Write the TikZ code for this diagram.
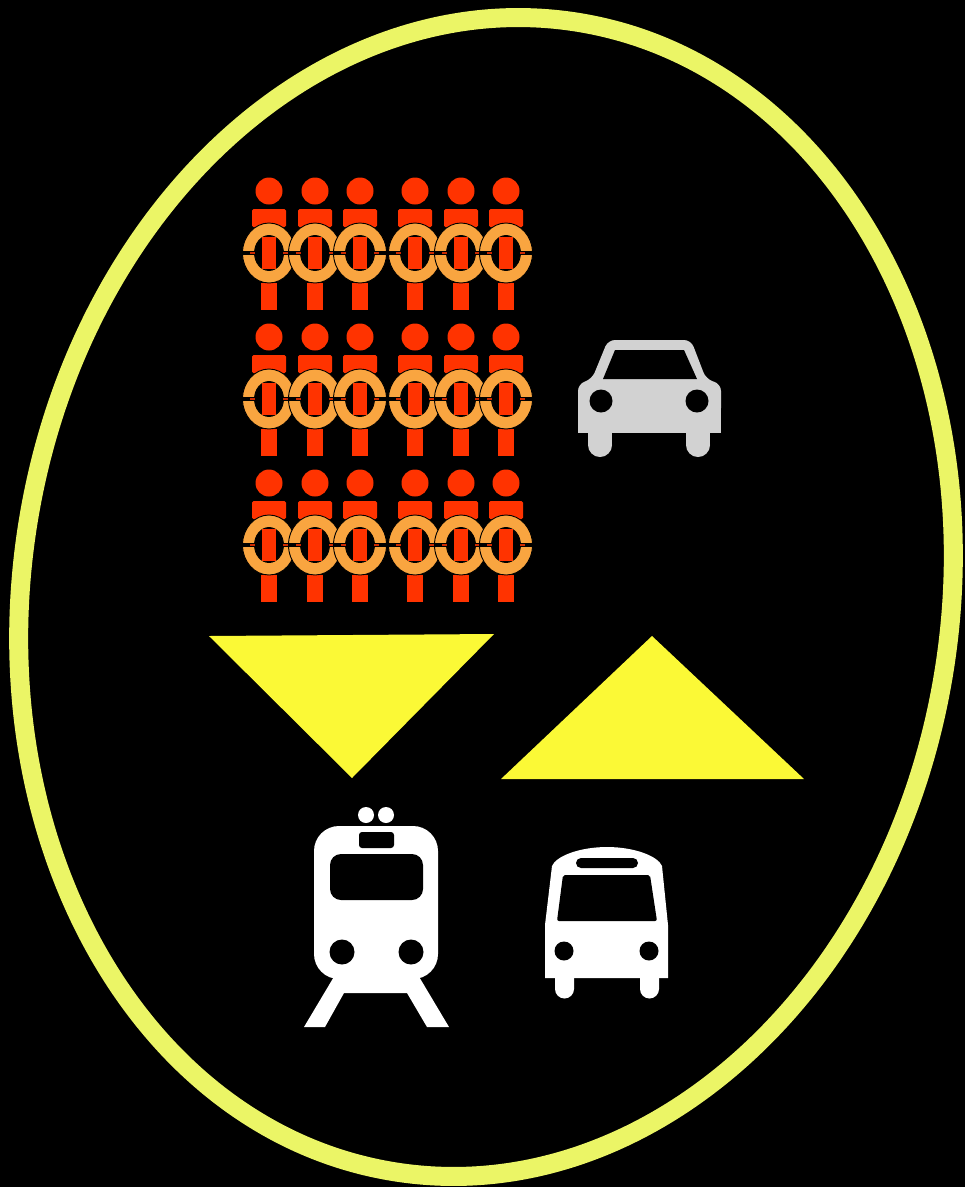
\documentclass[tikz,border=0pt]{standalone}
\definecolor{ringY}{HTML}{EBF566}
\definecolor{triY}{HTML}{FBF936}
\definecolor{redP}{HTML}{FF3300}
\definecolor{orP}{HTML}{F9A540}
\definecolor{carG}{HTML}{D2D2D2}
\newcommand{\oneperson}[2]{%
 \begin{scope}[shift={(#1,#2)}]
  \fill[redP] (0,0) circle[radius=13.5];
  \fill[redP,rounded corners=1.5] (-17,18) rectangle (17,36);
  \fill[redP] (-8,92) rectangle (8,119);
  \fill[orP,even odd rule,draw=black,line width=.9] (0,62) ellipse[x radius=26.5,y radius=30] (0,62) ellipse[x radius=14.5,y radius=17.5];
  \fill[redP] (-7,46) rectangle (7,78);
  \fill[black] (-27.5,60.3) rectangle (27.5,63.7);
  \fill[redP] (-7,60.3) rectangle (7,63.7);
  \fill[redP!80!black] (-19,60.8) rectangle (-14,63.2);
  \fill[redP!80!black] (14,60.8) rectangle (19,63.2);
 \end{scope}}
\begin{document}
\begin{tikzpicture}[x=1pt,y=-1pt]
\useasboundingbox (0,0) rectangle (965,1187);
\fill[black] (0,0) rectangle (965,1187);
\draw[ringY,line width=19,rotate around={-9:(486,597)}] (486,597) ellipse[x radius=464,y radius=582];
\foreach \ry in {191,337,483}{
 \foreach \px in {269,315,360,415,461,506}{
  \oneperson{\px}{\ry}
 }}
% triangles
\fill[triY] (209,636) -- (494,634) -- (352,778) -- cycle;
\fill[triY] (501,779) -- (652,636) -- (804,779) -- cycle;
% car
\fill[carG,rounded corners=7] (578,415) -- (578,384) -- (592,379) -- (608,340) -- (691,340) -- (706,379) -- (721,384) -- (721,415) -- cycle;
\fill[carG] (578,405) rectangle (721,433);
\fill[carG] (588,430) rectangle (612,445);
\fill[carG] (600,445) circle[radius=12];
\fill[carG] (686,430) rectangle (710,445);
\fill[carG] (698,445) circle[radius=12];
\fill[black] (603,379) -- (615,350) -- (684,350) -- (697,379) -- cycle;
\fill[black] (601,401) circle[radius=11.5] (697,401) circle[radius=11.5];
% train
\fill[white] (366,815) circle[radius=8] (386,815) circle[radius=8];
\fill[white] (304,1027) -- (335,975) -- (418,975) -- (449,1027) -- (427,1027) -- (407,993) -- (344,993) -- (325,1027) -- cycle;
\fill[white,rounded corners=25] (314,979) rectangle (438,826);
\fill[black,rounded corners=3] (359,832) rectangle (394,848);
\fill[black,rounded corners=11] (330,854) rectangle (423,900);
\fill[black] (342,952) circle[radius=12.5] (411,952) circle[radius=12.5];
% bus
\fill[white] (545,978) -- (545,925) -- (552,866) .. controls (556,856) and (580,847) .. (607,847) .. controls (634,847) and (658,856) .. (662,866) -- (668,925) -- (668,978) -- cycle;
\fill[white] (555,975) rectangle (574,989) (640,975) rectangle (659,989);
\fill[white] (564.5,989) circle[radius=9.5] (649.5,989) circle[radius=9.5];
\fill[black,rounded corners=5] (576,858) rectangle (638,868);
\fill[black,rounded corners=2] (563,875) -- (650,875) -- (657,921) -- (557,921) -- cycle;
\fill[black] (564,951) circle[radius=9.5] (649,951) circle[radius=9.5];
\end{tikzpicture}
\end{document}
